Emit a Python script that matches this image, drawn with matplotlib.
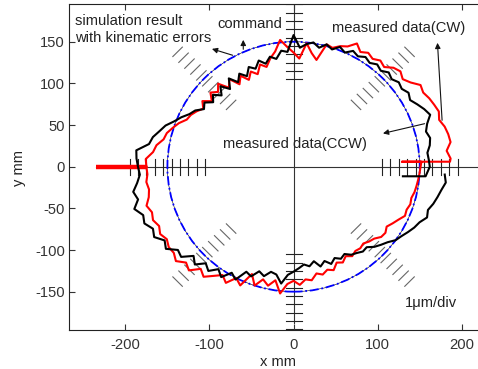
import numpy as np
import matplotlib.pyplot as plt
from matplotlib.patches import Circle

plt.rcParams['font.family'] = ['Liberation Sans', 'DejaVu Sans']
plt.rcParams['axes.unicode_minus'] = False

# measured data (CW), polar readings: angle [deg] -> radius [mm, magnified]
cw_ang = np.arange(180, -181, -3)
cw_r = [175, 176, 168, 165, 158, 156, 151, 146, 139, 137,
        133, 128, 134, 125, 133, 127, 134, 122, 130, 118,
        126, 117, 125, 119, 129, 124, 133, 140, 153, 144,
        137, 130, 149, 138, 131, 152, 150, 155, 158, 166,
        159, 163, 160, 164, 161, 168, 171, 167, 172, 180,
        178, 181, 183, 185, 182, 186, 188, 189, 183, 187,
        151, 150, 149, 148, 147, 145, 146, 144, 145, 140,
        136, 132, 135, 134, 129, 127, 124, 126, 125, 128,
        124, 129, 126, 133, 130, 134, 131, 138, 136, 142,
        137, 141, 153, 138, 146, 140, 150, 138, 156, 150,
        161, 155, 162, 170, 165, 176, 172, 180, 176, 177,
        174, 178, 175, 179, 177, 181, 176, 174, 176, 174,
        175]
cw_lead_x = [-235, -175]
cw_lead_y = [0, 0]
cw_detour_x = [186, 129, 152]
cw_detour_y = [6, 6, 6]

# measured data (CCW)
ccw_ang = np.arange(0, 360, 3)
ccw_r = [162, 161, 160, 164, 166, 163, 167, 174, 170, 165,
         160, 163, 159, 161, 157, 160, 155, 158, 154, 157,
         153, 156, 150, 154, 148, 152, 146, 151, 148, 143,
         158, 138, 140, 131, 135, 128, 134, 126, 131, 122,
         129, 121, 131, 120, 130, 121, 129, 123, 131, 127,
         135, 139, 146, 152, 160, 165, 171, 174, 188, 187,
         185, 183, 187, 193, 189, 196, 188, 190, 183, 186,
         177, 181, 170, 172, 160, 166, 156, 161, 152, 158,
         147, 152, 138, 141, 132, 136, 129, 131, 141, 130,
         126, 122, 118, 121, 116, 124, 119, 125, 120, 124,
         121, 126, 128, 131, 130, 136, 140, 144, 150, 153,
         157, 161, 164, 170, 168, 172, 175, 178, 182, 180]
ccw_lead_x = [130, 157]
ccw_lead_y = [-11.5, -11.5]

command_r = 150
scale_dirs = [0, 45, 90, 135, 180, 225, 270, 315]
scale_r = [105, 115, 125, 135, 145, 155, 165, 175, 185, 195]

xticks = [-200, -100, 0, 100, 200]
yticks = [-150, -100, -50, 0, 50, 100, 150]

fig = plt.figure(figsize=(4.78, 3.69), dpi=100)
ax = fig.add_axes([69 / 478, 39 / 369, 418 / 478, 326 / 369])
ax.set_xlim(-267, 230)
ax.set_ylim(-196, 195.3)

# cross lines
ax.plot([-235, 230], [0, 0], color="#333333", lw=0.8, zorder=1)
ax.plot([0, 0], [-188, 196], color="#333333", lw=0.8, zorder=1)

# 1um/div scale marks
for d in scale_dirs:
    t = np.deg2rad(d)
    ux, uy = np.cos(t), np.sin(t)
    px, py = -uy, ux
    diag = d % 90 != 0
    h = 8 if diag else 9.5
    col = "#666666" if diag else "#222222"
    for r in scale_r:
        cx, cy = r * ux, r * uy
        ax.plot([cx - h * px, cx + h * px], [cy - h * py, cy + h * py],
                color=col, lw=0.8, zorder=1)

# command / simulation circle
ax.add_patch(Circle((0, 0), command_r, fill=False, ec="#000000", lw=0.4, zorder=2))
ax.add_patch(Circle((0, 0), command_r, fill=False, ec="#0000ff", lw=1.3,
                    ls=(0, (5, 1.5, 1, 1.5)), zorder=2))

# CW (red)
t = np.deg2rad(cw_ang)
cwx = np.array(cw_r) * np.cos(t)
cwy = np.array(cw_r) * np.sin(t)
rx = np.concatenate([cwx[:60], cw_detour_x, cwx[60:]])
ry = np.concatenate([cwy[:60], cw_detour_y, cwy[60:]])
ax.plot(rx, ry, color="#ff0000", lw=1.5, zorder=3)
ax.plot(cw_lead_x, cw_lead_y, color="#ff0000", lw=3.2, solid_capstyle="butt", zorder=3)

# CCW (black)
t = np.deg2rad(ccw_ang)
bx = np.concatenate([ccw_lead_x, np.array(ccw_r) * np.cos(t)])
by = np.concatenate([ccw_lead_y, np.array(ccw_r) * np.sin(t)])
ax.plot(bx, by, color="#000000", lw=1.5, zorder=4)

fs = 10.6
ax.text(-259.5, 174.8, "simulation result", fontsize=fs, va="center", color="#222222")
ax.text(-259.5, 154.4, "with kinematic errors", fontsize=fs, va="center", color="#222222")
ax.text(-90.5, 171.2, "command", fontsize=fs, va="center", color="#222222")
ax.text(46, 166.3, "measured data(CW)", fontsize=fs, va="center", color="#222222")
ax.text(-83.6, 27.2, "measured data(CCW)", fontsize=fs, va="center", color="#222222")
ax.text(132.6, -163.5, "1\u03bcm/div", fontsize=fs, va="center", color="#222222")

arrow = dict(arrowstyle="-|>", color="#111111", lw=0.8, mutation_scale=8)
ax.annotate("", xy=(-100.2, 142.4), xytext=(-69.3, 132.8), arrowprops=arrow)
ax.annotate("", xy=(-59.8, 155.6), xytext=(-59.8, 137.6), arrowprops=arrow)
ax.annotate("", xy=(170.9, 152), xytext=(176.8, 52.4), arrowprops=arrow)
ax.annotate("", xy=(103.1, 39.2), xytext=(159, 52.4), arrowprops=arrow)

ax.set_xticks(xticks)
ax.set_yticks(yticks)
ax.tick_params(direction="in", length=4, width=0.8, top=True, right=True,
               labelsize=fs, colors="#333333")
ax.tick_params(axis="x", pad=5.5)
ax.tick_params(axis="y", pad=3)
for s in ax.spines.values():
    s.set_color("#222222")
    s.set_linewidth(0.8)

fig.text(278 / 478, 1 - 362 / 369, "x mm", fontsize=fs, ha="center", va="center", color="#222222")
fig.text(19 / 478, 1 - 168 / 369, "y mm", fontsize=fs, ha="center", va="center",
         rotation=90, color="#222222")

fig.savefig("out.png", dpi=100)
